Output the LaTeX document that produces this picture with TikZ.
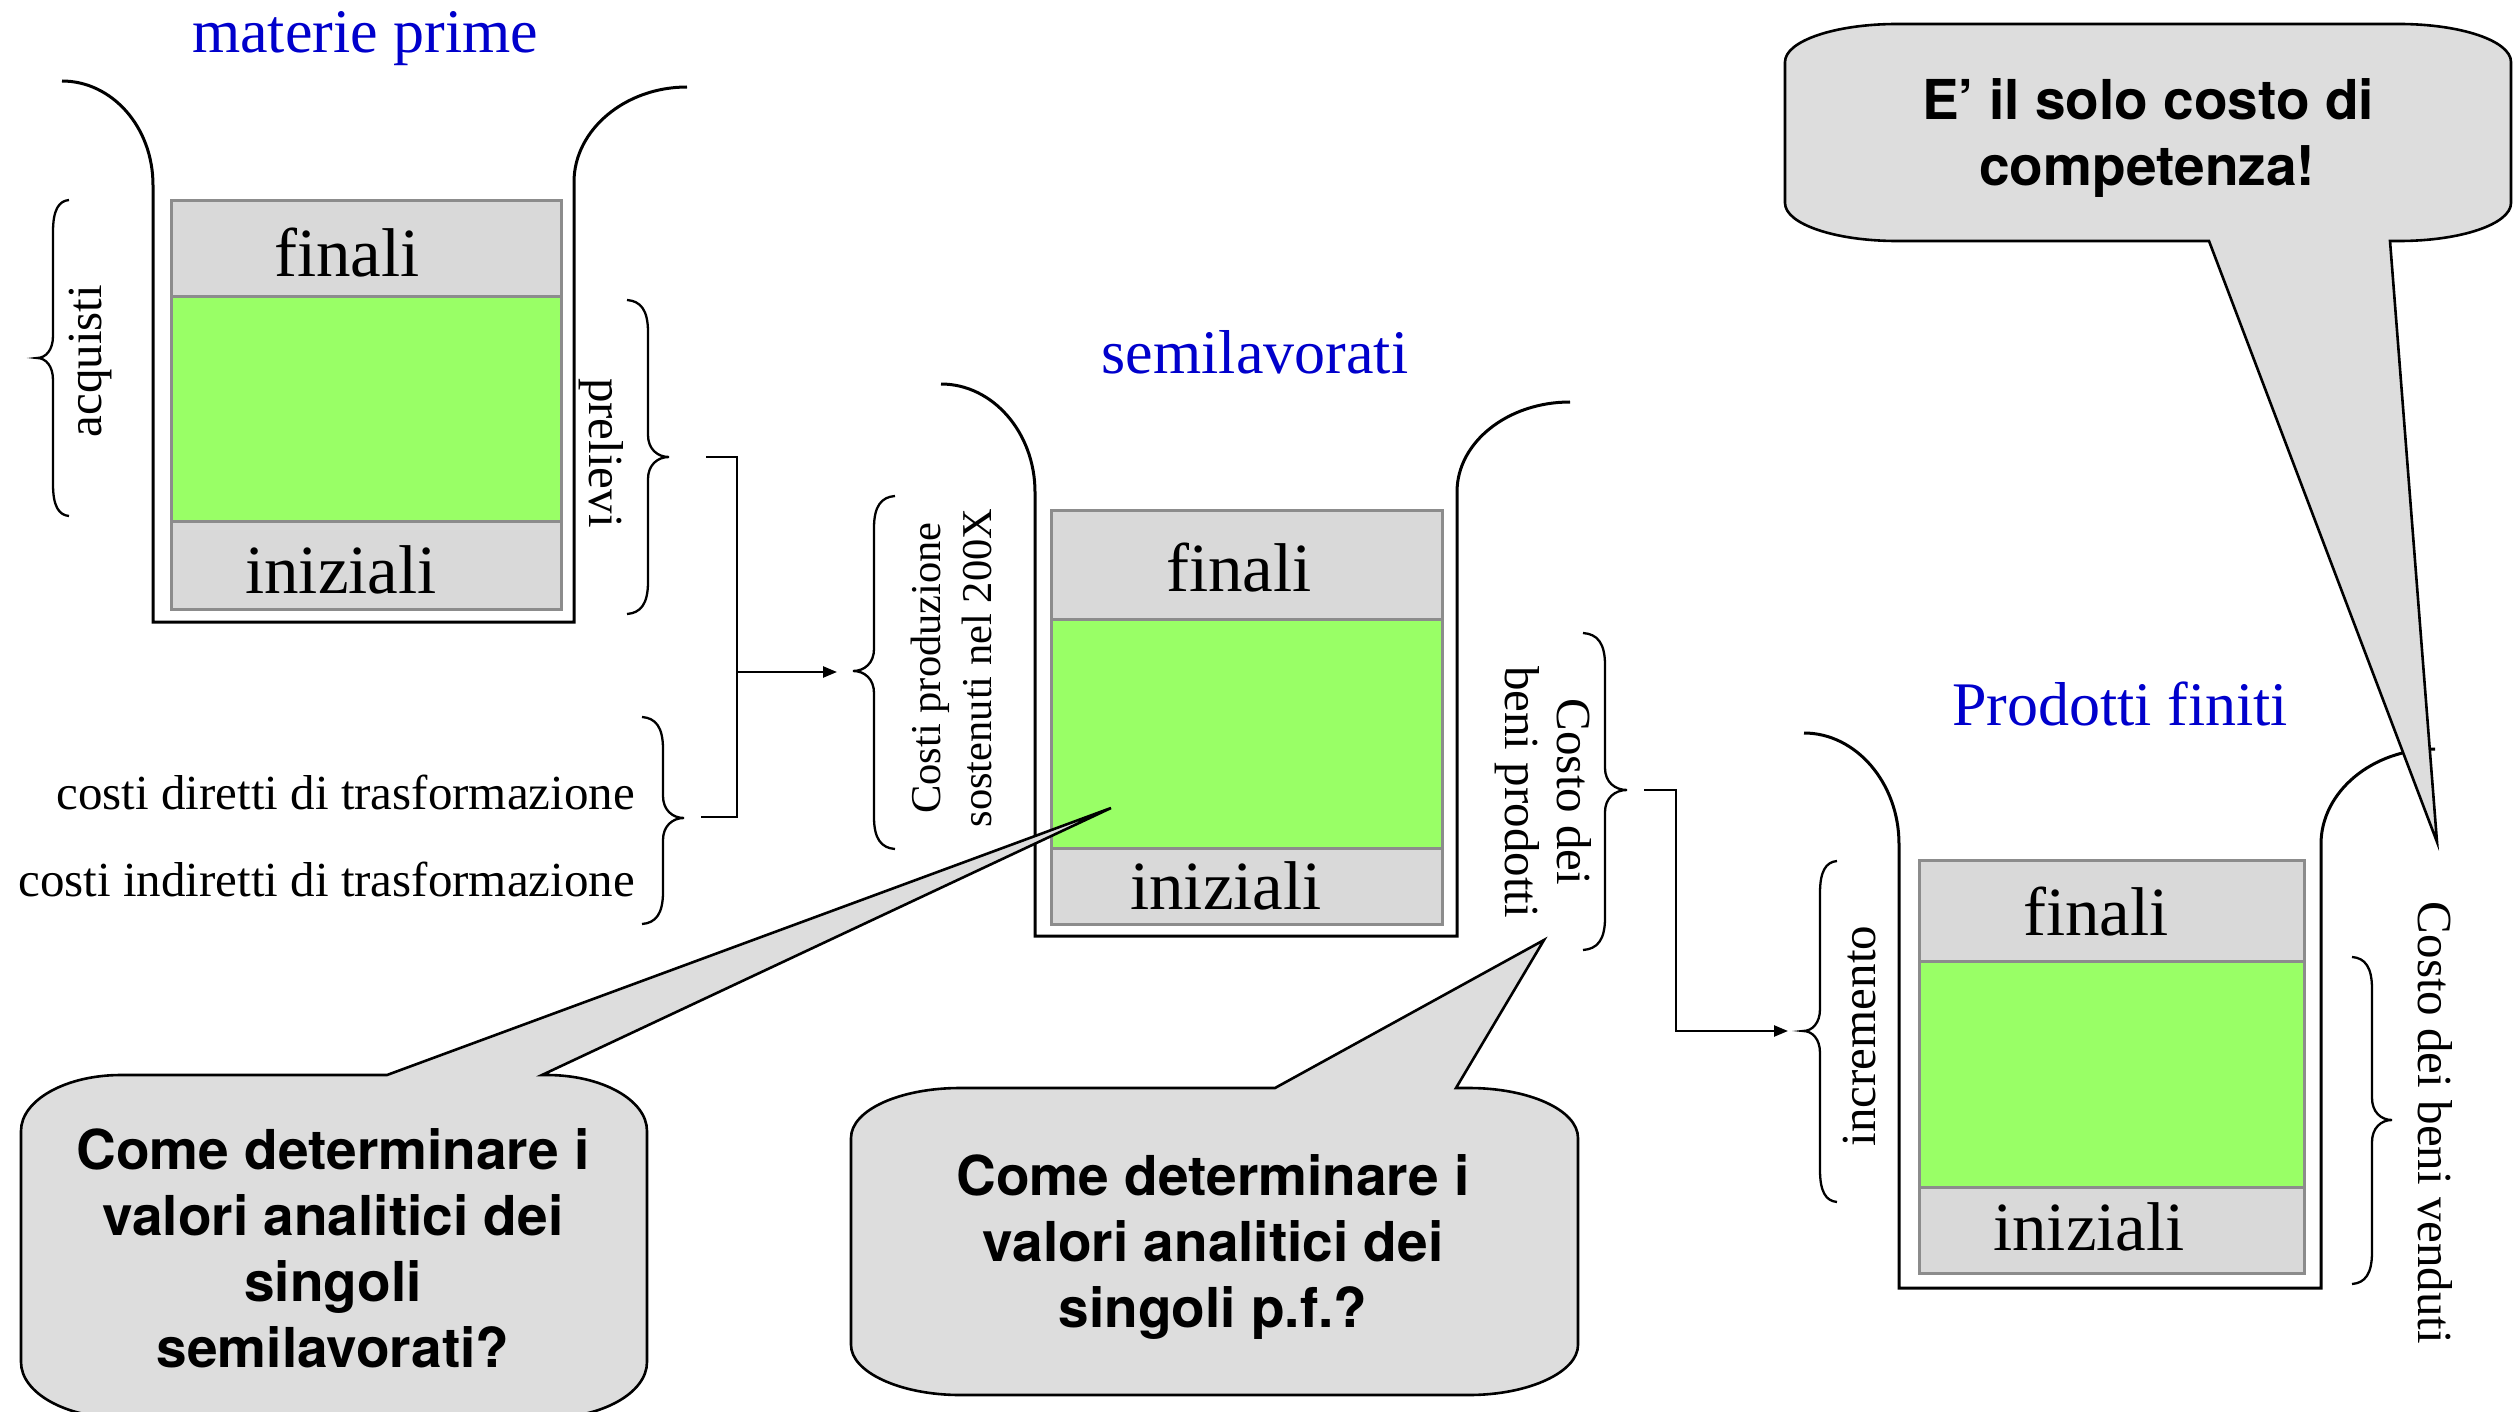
\documentclass[tikz,border=0pt]{standalone}
\usepackage{fontspec}
\setmainfont{Liberation Serif}
\newfontfamily\hv{TeX Gyre Heros}
\usetikzlibrary{arrows.meta}

\definecolor{boxgray}{HTML}{D9D9D9}
\definecolor{boxgreen}{HTML}{99FF66}
\definecolor{boxedge}{HTML}{8C8C8C}
\definecolor{callfill}{HTML}{DDDDDD}
\definecolor{titleblue}{HTML}{0000CC}

% vertical curly brace: spine x, top y, tip y, bottom y, w (ends at spine+w, tip at spine-w)
\newcommand{\mybrace}[5]{%
  \draw[brc] ({#1+(#5)},#2) .. controls ({#1+0.35*(#5)},{#2+1}) and (#1,{#2+10}) .. (#1,{#2+32})
    -- (#1,{#3-22}) .. controls (#1,{#3-8}) and ({#1-0.45*(#5)},#3) .. ({#1-(#5)},#3)
    .. controls ({#1-0.45*(#5)},#3) and (#1,{#3+8}) .. (#1,{#3+22})
    -- (#1,{#4-32}) .. controls (#1,{#4-10}) and ({#1+0.35*(#5)},{#4-1}) .. ({#1+(#5)},#4);}

\begin{document}
\begin{tikzpicture}[x=1pt,y=-1pt,
  cup/.style={line width=3pt, line join=miter},
  brc/.style={line width=2.3pt},
  conn/.style={line width=2.4pt},
  arr/.style={conn,-{Triangle[length=14pt,width=11pt]}},
  sec/.style={draw=boxedge, line width=3pt},
  title/.style={font=\fontsize{62}{70}\selectfont, text=titleblue, inner sep=0pt, anchor=base},
  big/.style={font=\fontsize{69}{76}\selectfont, inner sep=0pt, anchor=base},
  lbl/.style={font=\fontsize{49}{54}\selectfont, inner sep=0pt, anchor=base},
  smalllbl/.style={font=\fontsize{42.5}{48}\selectfont, inner sep=0pt, anchor=base},
  call/.style={fill=callfill, draw=black, line width=2.6pt, line join=miter},
  ctext/.style={font=\hv\bfseries\fontsize{55}{66}\selectfont, inner sep=0pt, anchor=base},
]
\useasboundingbox (0,0) rectangle (2517,1412);
\fill[white] (0,0) rectangle (2517,1412);

% ---------------- block 1: materie prime ----------------
\node[title] (t1) at (365,53) {materie prime};
\filldraw[sec, fill=boxgray] (171,201) rectangle (561,297);
\filldraw[sec, fill=boxgreen] (171,297) rectangle (561,521);
\filldraw[sec, fill=boxgray] (171,521) rectangle (561,609);
\node[big] (f1) at (347,277) {finali};
\node[big] (i1) at (341,593) {iniziali};
\draw[cup] (62,81) .. controls (112,81) and (153,127) .. (153,185) -- (153,622) -- (574,622)
  -- (574,182) .. controls (574,130) and (625,87) .. (687,87);
\mybrace{53}{200}{358}{516}{16}
\node[lbl, rotate=90] (acq) at (101,361) {acquisti};
\mybrace{648}{300}{457}{614}{-21}
\node[lbl, rotate=-90] (prel) at (589,453) {prelievi};

% costi di trasformazione
\node[lbl, anchor=base east] (cdt) at (635,809) {costi diretti di trasformazione};
\node[lbl, anchor=base east] (cit) at (635,896) {costi indiretti di trasformazione};
\mybrace{663}{717}{818}{924}{-21}

% connector 1
\coordinate (pTip) at (706,457);
\coordinate (cTip) at (701,817);
\coordinate (jTop) at (737,457);
\coordinate (jBot) at (737,817);
\coordinate (jMid) at (737,672);
\coordinate (cpTip) at (837,672);
\draw[conn] (pTip) -- (jTop) -- (jBot) -- (cTip);
\draw[arr] (jMid) -- (cpTip);

% ---------------- block 2: semilavorati ----------------
\node[title] (t2) at (1255,374) {semilavorati};
\filldraw[sec, fill=boxgray] (1051,510) rectangle (1442,619);
\filldraw[sec, fill=boxgreen] (1051,619) rectangle (1442,848);
\filldraw[sec, fill=boxgray] (1051,848) rectangle (1442,924);
\node[big] (f2) at (1239,591) {finali};
\node[big] (i2) at (1226,909) {iniziali};
\draw[cup] (941,384) .. controls (993,384) and (1035,433) .. (1035,492) -- (1035,936) -- (1457,936)
  -- (1457,492) .. controls (1457,442) and (1508,402) .. (1570,402);
\mybrace{874}{496}{671}{849}{21}
\node[smalllbl, rotate=90] (cp1) at (940,668) {Costi produzione};
\node[smalllbl, rotate=90] (cp2) at (991,668) {sostenuti nel 200X};
\mybrace{1605}{633}{790}{950}{-22}
\node[lbl, rotate=-90] (bp1) at (1557,792) {Costo dei};
\node[lbl, rotate=-90] (bp2) at (1505,792) {beni prodotti};

% connector 2
\coordinate (bpTip) at (1644,790);
\coordinate (j2Top) at (1676,790);
\coordinate (j2Bot) at (1676,1031);
\coordinate (incTip) at (1788,1031);
\draw[arr] (bpTip) -- (j2Top) -- (j2Bot) -- (incTip);

% ---------------- block 3: prodotti finiti ----------------
\node[title] (t3) at (2120,725) {Prodotti finiti};
\filldraw[sec, fill=boxgray] (1919,860) rectangle (2304,961);
\filldraw[sec, fill=boxgreen] (1919,961) rectangle (2304,1187);
\filldraw[sec, fill=boxgray] (1919,1187) rectangle (2304,1273);
\node[big] (f3) at (2096,935) {finali};
\node[big] (i3) at (2089,1250) {iniziali};
\draw[cup] (1804,733) .. controls (1856,733) and (1899,783) .. (1899,844) -- (1899,1288) -- (2321,1288)
  -- (2321,844) .. controls (2321,792) and (2372,749) .. (2435,749);
\mybrace{1820}{861}{1031}{1202}{17}
\node[lbl, rotate=90] (inc) at (1875,1036) {incremento};
\mybrace{2372}{957}{1120}{1284}{-20}
\node[lbl, rotate=-90] (cbv) at (2418,1123) {Costo dei beni venduti};

% ---------------- callouts ----------------
\coordinate (tipA) at (1111,808);
\draw[call] (121,1075) -- (387,1075) -- (tipA) -- (542,1075) -- (547,1075)
  .. controls (602,1075) and (647,1100) .. (647,1131) -- (647,1362)
  .. controls (647,1393) and (602,1418) .. (547,1418) -- (121,1418)
  .. controls (66,1418) and (21,1393) .. (21,1362) -- (21,1131)
  .. controls (21,1100) and (66,1075) .. (121,1075) -- cycle;
\node[ctext] (qa1) at (333,1169) {Come determinare i};
\node[ctext] (qa2) at (333,1235) {valori analitici dei};
\node[ctext] (qa3) at (333,1301) {singoli};
\node[ctext] (qa4) at (333,1367) {semilavorati?};

\coordinate (tipB) at (1544,940);
\draw[call] (960,1088) -- (1275,1088) -- (tipB) -- (1456,1088) -- (1469,1088)
  .. controls (1529,1088) and (1578,1110) .. (1578,1138) -- (1578,1345)
  .. controls (1578,1372) and (1529,1395) .. (1469,1395) -- (960,1395)
  .. controls (900,1395) and (851,1372) .. (851,1345) -- (851,1138)
  .. controls (851,1110) and (900,1088) .. (960,1088) -- cycle;
\node[ctext] (qb1) at (1213,1195) {Come determinare i};
\node[ctext] (qb2) at (1213,1261) {valori analitici dei};
\node[ctext] (qb3) at (1213,1327) {singoli p.f.?};

\coordinate (tipC) at (2437,842);
\draw[call] (1897,24) -- (2399,24) .. controls (2461,24) and (2511,41) .. (2511,62)
  -- (2511,203) .. controls (2511,224) and (2461,241) .. (2399,241) -- (2390,241)
  -- (tipC) -- (2209,241) -- (1897,241)
  .. controls (1835,241) and (1785,224) .. (1785,203) -- (1785,62)
  .. controls (1785,41) and (1835,24) .. (1897,24) -- cycle;
\node[ctext] (qc1) at (2148,120) {E’ il solo costo di};
\node[ctext] (qc2) at (2147,186) {competenza!};
\end{tikzpicture}
\end{document}
